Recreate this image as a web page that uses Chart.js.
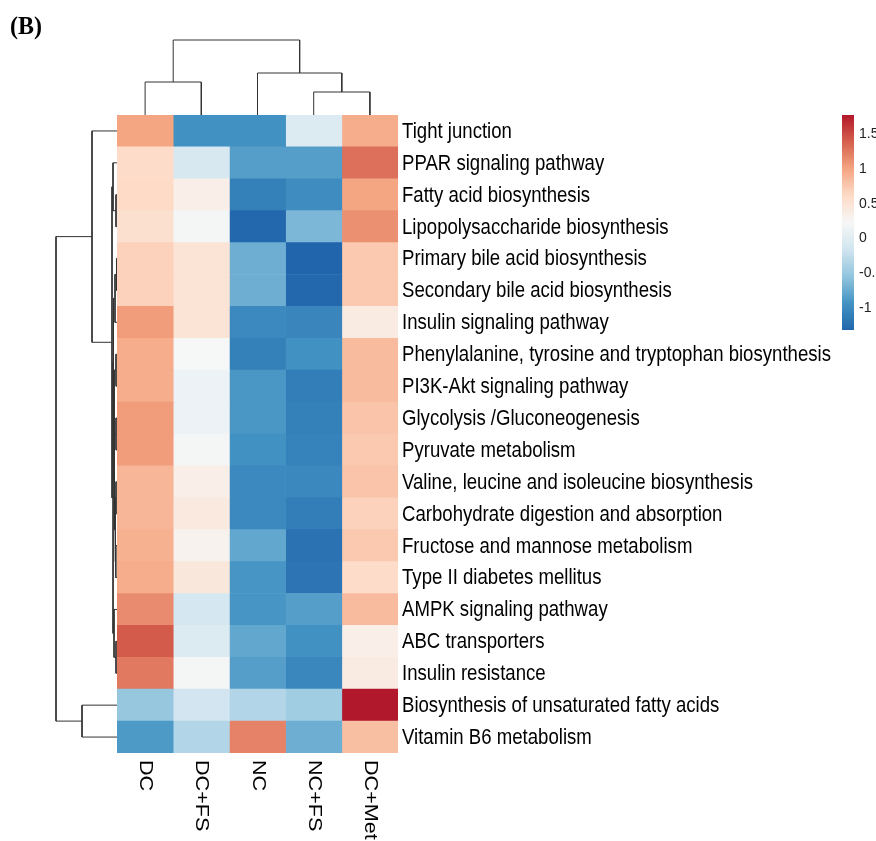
<!DOCTYPE html>
<html>
<head>
<meta charset="utf-8">
<script src="https://cdn.jsdelivr.net/npm/chart.js@4.4.1/dist/chart.umd.min.js"></script>
<style>
  body { margin: 0; background: #fff; }
  #wrap { position: relative; width: 876px; height: 841px; overflow: hidden; }
  canvas { position: absolute; }
  #tag { position: absolute; left: 10px; top: 11px; font: bold 24px "Liberation Serif", serif; transform: scaleY(1.08); transform-origin: 0 0; }
</style>
</head>
<body>
<div id="wrap">
  <canvas id="heat" width="876" height="841" style="left:0;top:0"></canvas>
  <canvas id="colDendro" width="281" height="85" style="left:117px;top:30px"></canvas>
  <canvas id="rowDendro" width="77" height="638" style="left:40px;top:115px"></canvas>
  <canvas id="legendBar" width="40" height="250" style="left:836px;top:100px"></canvas>
  <div id="tag">(B)</div>
</div>
<script>
// columns and rows of the heatmap
var groups = ["DC", "DC+FS", "NC", "NC+FS", "DC+Met"];
var pathways = [
  "Tight junction",
  "PPAR signaling pathway",
  "Fatty acid biosynthesis",
  "Lipopolysaccharide biosynthesis",
  "Primary bile acid biosynthesis",
  "Secondary bile acid biosynthesis",
  "Insulin signaling pathway",
  "Phenylalanine, tyrosine and tryptophan biosynthesis",
  "PI3K-Akt signaling pathway",
  "Glycolysis /Gluconeogenesis",
  "Pyruvate metabolism",
  "Valine, leucine and isoleucine biosynthesis",
  "Carbohydrate digestion and absorption",
  "Fructose and mannose metabolism",
  "Type II diabetes mellitus",
  "AMPK signaling pathway",
  "ABC transporters",
  "Insulin resistance",
  "Biosynthesis of unsaturated fatty acids",
  "Vitamin B6 metabolism"
];

// z-scores, one array per group (same order as pathways)
var dc    = [1.00, 0.60, 0.62, 0.55, 0.68, 0.68, 1.05, 0.95, 0.95, 1.05, 1.05, 0.88, 0.88, 0.92, 0.95, 1.15, 1.42, 1.25, -0.52, -0.88];
var dcFs  = [-0.95, -0.10, 0.35, 0.20, 0.50, 0.50, 0.50, 0.22, 0.12, 0.12, 0.20, 0.35, 0.42, 0.30, 0.45, -0.12, -0.05, 0.20, -0.15, -0.35];
var nc    = [-0.95, -0.85, -1.10, -1.30, -0.72, -0.72, -1.02, -1.10, -0.90, -0.90, -0.95, -1.02, -1.02, -0.78, -0.92, -0.92, -0.78, -0.85, -0.35, 1.20];
var ncFs  = [-0.05, -0.85, -0.98, -0.65, -1.32, -1.30, -1.05, -0.95, -1.12, -1.10, -1.08, -1.03, -1.12, -1.22, -1.20, -0.85, -0.95, -1.04, -0.45, -0.72];
var dcMet = [0.95, 1.30, 1.00, 1.12, 0.75, 0.75, 0.40, 0.85, 0.85, 0.78, 0.75, 0.78, 0.68, 0.75, 0.60, 0.85, 0.35, 0.40, 1.78, 0.82];
var columns = [dc, dcFs, nc, ncFs, dcMet];

// colour key
var scaleMin = -1.32;
var scaleMax = 1.78;
var keyTicks = [-1, -0.5, 0, 0.5, 1, 1.5];

// dendrograms: [left, right, height]; numbers are leaf positions
var colTree = [[0, 1, 33], [2, [3, 4, 23], 42], 75];
var rowTree = [
  [0,
    [
      [1, [2, 3, 1], 4],
      [
        [
          [[4, 5, 0.4], 6, 2],
          [[7, 8, 1], [[9, 10, 1], [[11, 12, 1], [13, 14, 1.2], 2], 2.5], 3],
          3.5
        ],
        [15, [16, 17, 1], 3],
        4
      ],
      5
    ],
    25
  ],
  [18, 19, 35],
  61
];

var palette = ["#2166AC", "#4393C3", "#92C5DE", "#D1E5F0", "#F7F7F7", "#FDDBC7", "#F4A582", "#D6604D", "#B2182B"];

function hexRgb(h) {
  return [parseInt(h.substr(1, 2), 16), parseInt(h.substr(3, 2), 16), parseInt(h.substr(5, 2), 16)];
}

function colorFor(v) {
  var t = (v - scaleMin) / (scaleMax - scaleMin);
  t = Math.max(0, Math.min(1, t));
  var pos = t * (palette.length - 1);
  var i = Math.min(Math.floor(pos), palette.length - 2);
  var f = pos - i;
  var a = hexRgb(palette[i]), b = hexRgb(palette[i + 1]);
  var c = a.map(function (x, k) { return Math.round(x + (b[k] - x) * f); });
  return "rgb(" + c.join(",") + ")";
}

// heatmap: one floating bar per cell
var heatDatasets = columns.map(function (vals, c) {
  return {
    data: vals.map(function () { return [c, c + 1]; }),
    backgroundColor: vals.map(colorFor),
    borderWidth: 0,
    barPercentage: 1,
    categoryPercentage: 1,
    grouped: false
  };
});

// the original figure is stretched a bit vertically, so labels are drawn scaled
var axisLabels = {
  id: "axisLabels",
  afterDraw: function (chart) {
    var ctx = chart.ctx;
    var xs = chart.scales.x, ys = chart.scales.y;
    ctx.save();
    ctx.fillStyle = "#000";
    ctx.textAlign = "left";
    ctx.textBaseline = "middle";

    ctx.font = "18.6px 'Liberation Sans', Arial, sans-serif";
    pathways.forEach(function (p, i) {
      ctx.save();
      ctx.translate(chart.chartArea.right + 4, ys.getPixelForValue(i) + 1);
      ctx.scale(1, 1.15);
      ctx.fillText(p, 0, 0);
      ctx.restore();
    });

    ctx.font = "18px 'Liberation Sans', Arial, sans-serif";
    groups.forEach(function (g, i) {
      ctx.save();
      ctx.translate(xs.getPixelForValue(i + 0.5), chart.chartArea.bottom + 7);
      ctx.rotate(Math.PI / 2);
      ctx.scale(1.2, 1);
      ctx.fillText(g, 0, 0);
      ctx.restore();
    });
    ctx.restore();
  }
};

new Chart(document.getElementById("heat"), {
  type: "bar",
  data: { labels: pathways, datasets: heatDatasets },
  options: {
    responsive: false,
    animation: false,
    indexAxis: "y",
    layout: { padding: { left: 117, top: 115, bottom: 88, right: 0 } },
    plugins: { legend: { display: false }, tooltip: { enabled: false } },
    scales: {
      x: { type: "linear", min: 0, max: 5, display: false },
      y: {
        position: "right",
        grid: { display: false, drawTicks: false },
        border: { display: false },
        ticks: { display: false },
        afterFit: function (s) { s.width = 478; }
      }
    }
  },
  plugins: [axisLabels]
});

// turn a tree into elbow line datasets
function treeSegments(node, out) {
  if (typeof node === "number") return { pos: node + 0.5, h: 0 };
  var l = treeSegments(node[0], out);
  var r = treeSegments(node[1], out);
  var h = node[2];
  out.push([[l.pos, l.h], [l.pos, h], [r.pos, h], [r.pos, r.h]]);
  return { pos: (l.pos + r.pos) / 2, h: h };
}

function dendroDatasets(tree, horizontal) {
  var segs = [];
  treeSegments(tree, segs);
  return segs.map(function (s) {
    return {
      data: s.map(function (p) { return horizontal ? { x: p[0], y: p[1] } : { x: p[1], y: p[0] }; }),
      showLine: true,
      pointRadius: 0,
      borderColor: "#333",
      borderWidth: 1,
      tension: 0,
      clip: false
    };
  });
}

var dendroBase = {
  responsive: false,
  animation: false,
  layout: { padding: 0 },
  plugins: { legend: { display: false }, tooltip: { enabled: false } }
};

new Chart(document.getElementById("colDendro"), {
  type: "scatter",
  data: { datasets: dendroDatasets(colTree, true) },
  options: Object.assign({}, dendroBase, {
    scales: {
      x: { type: "linear", min: 0, max: 5, display: false },
      y: { type: "linear", min: 0, max: 85, display: false }
    }
  })
});

new Chart(document.getElementById("rowDendro"), {
  type: "scatter",
  data: { datasets: dendroDatasets(rowTree, false) },
  options: Object.assign({}, dendroBase, {
    scales: {
      x: { type: "linear", min: 0, max: 77, reverse: true, display: false },
      y: { type: "linear", min: 0, max: 20, reverse: true, display: false }
    }
  })
});

// colour key
new Chart(document.getElementById("legendBar"), {
  type: "bar",
  data: {
    labels: [""],
    datasets: [{
      data: [[scaleMin, scaleMax]],
      borderWidth: 0,
      barPercentage: 1,
      categoryPercentage: 1,
      backgroundColor: function (context) {
        var area = context.chart.chartArea;
        if (!area) return palette[4];
        var g = context.chart.ctx.createLinearGradient(0, area.bottom, 0, area.top);
        palette.forEach(function (c, i) { g.addColorStop(i / (palette.length - 1), c); });
        return g;
      }
    }]
  },
  options: {
    responsive: false,
    animation: false,
    layout: { padding: { top: 15, bottom: 20, left: 6, right: 0 } },
    plugins: { legend: { display: false }, tooltip: { enabled: false } },
    scales: {
      x: { display: false },
      y: {
        position: "right",
        min: scaleMin,
        max: scaleMax,
        grid: { display: false, drawTicks: false },
        border: { display: false },
        afterBuildTicks: function (s) { s.ticks = keyTicks.map(function (v) { return { value: v }; }); },
        ticks: {
          font: { family: "'Liberation Sans', Arial, sans-serif", size: 14 },
          color: "#222",
          padding: 5,
          callback: function (v) { return String(v); }
        },
        afterFit: function (s) { s.width = 22; }
      }
    }
  }
});
</script>
</body>
</html>
